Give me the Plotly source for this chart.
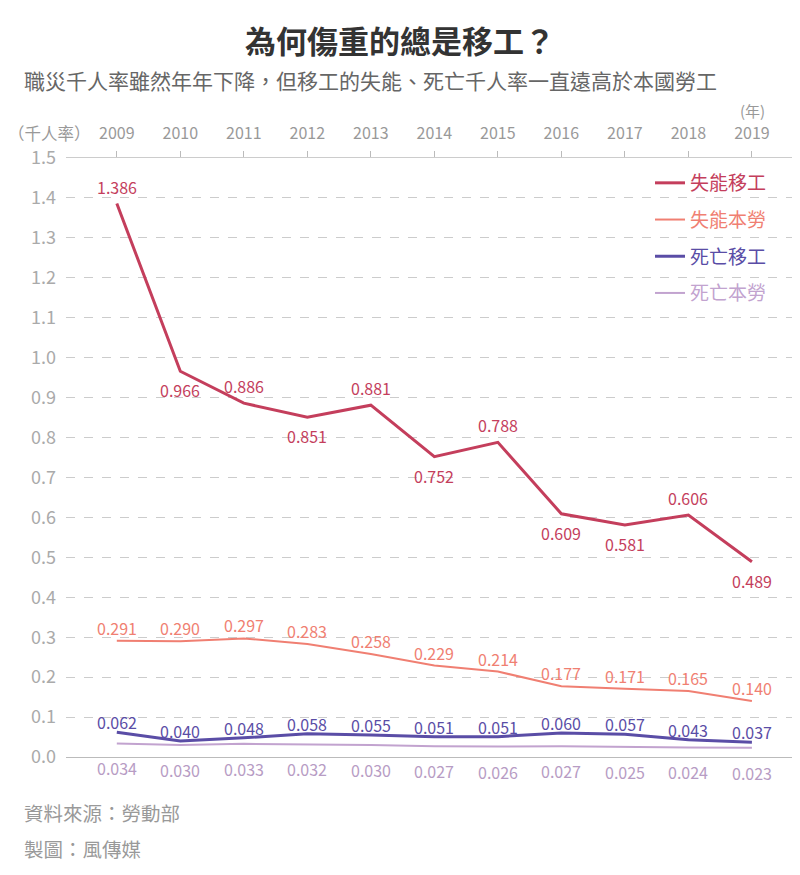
import plotly.graph_objects as go

years = [2009, 2010, 2011, 2012, 2013, 2014, 2015, 2016, 2017, 2018, 2019]
disab_migrant = [1.386, 0.966, 0.886, 0.851, 0.881, 0.752, 0.788, 0.609, 0.581, 0.606, 0.489]
disab_local = [0.291, 0.290, 0.297, 0.283, 0.258, 0.229, 0.214, 0.177, 0.171, 0.165, 0.140]
death_migrant = [0.062, 0.040, 0.048, 0.058, 0.055, 0.051, 0.051, 0.060, 0.057, 0.043, 0.037]
death_local = [0.034, 0.030, 0.033, 0.032, 0.030, 0.027, 0.026, 0.027, 0.025, 0.024, 0.023]
disab_migrant_above = [True, False, True, False, True, False, True, False, False, True, False]

series = [
    ("失能移工", disab_migrant, "#c43e5c", 3),
    ("失能本勞", disab_local, "#f07f72", 2),
    ("死亡移工", death_migrant, "#5a4da6", 3),
    ("死亡本勞", death_local, "#c2a3cf", 2),
]

FONT = "Noto Sans CJK TC"
OFF = 8  # page body margin
W, H = 800 - OFF, 875 - OFF
ml, mr, mt, mb = 66 - OFF, 3, 158 - OFF, 118
pw, ph = W - ml - mr, H - mt - mb

fig = go.Figure()
for i, (name, vals, color, w) in enumerate(series):
    fig.add_trace(go.Scatter(
        x=years, y=vals, mode="lines", name=f"<span style='color:{color}'>{name}</span>",
        line=dict(color=color, width=w), legendgroup=f"g{i}", hoverinfo="skip"))

annotations = []
def lab(x, y, text, color, shift):
    annotations.append(dict(x=x, y=y, text=text, showarrow=False, yshift=shift,
                            font=dict(family=FONT, size=16, color=color), xref="x", yref="y"))

for x, v, up in zip(years, disab_migrant, disab_migrant_above):
    lab(x, v, f"{v:.3f}", "#c43e5c", 17 if up else -19)
for x, v in zip(years, disab_local):
    lab(x, v, f"{v:.3f}", "#f07f72", 13)
for x, v in zip(years, death_migrant):
    lab(x, v, f"{v:.3f}", "#5a4da6", 10)
for x, v in zip(years, death_local):
    lab(x, v, f"{v:.3f}", "#b79cc4", -25)

def px(xp, yp, text, size, color, xanchor="center"):
    # header/footer text placed by page pixel position
    return dict(text=text, x=(xp - OFF - ml) / pw, y=1 + (mt - (yp - OFF)) / ph,
                xref="paper", yref="paper", xanchor=xanchor, yanchor="middle",
                showarrow=False, font=dict(family=FONT, size=size, color=color))

annotations += [
    px(400, 40, "<b>為何傷重的總是移工？</b>", 31, "#333"),
    px(22, 80, "職災千人率雖然年年下降，但移工的失能、死亡千人率一直遠高於本國勞工", 21, "#666", "left"),
    px(49, 133, "（千人率）", 16.5, "#999"),
    px(752, 110, "(年)", 15, "#999"),
    px(22, 812, "資料來源：勞動部", 19.5, "#999", "left"),
    px(22, 848, "製圖：風傳媒", 19.5, "#999", "left"),
]

fig.update_layout(
    width=W, height=H, margin=dict(l=ml, r=mr, t=mt, b=mb),
    paper_bgcolor="white", plot_bgcolor="white",
    font=dict(family=FONT, color="#999"),
    annotations=annotations,
    showlegend=True,
    legend=dict(x=(650 - OFF - ml) / pw, xanchor="left", y=0.99, yanchor="top",
                traceorder="grouped", tracegroupgap=9, font=dict(family=FONT, size=19),
                bgcolor="rgba(0,0,0,0)", itemwidth=30),
    xaxis=dict(side="top", range=[2008.2, 2019.71], tickmode="array", tickvals=years,
               ticktext=[str(y) for y in years], ticks="outside", ticklen=6, tickcolor="#bbb",
               showline=True, linecolor="#ccc", linewidth=1, showgrid=False, zeroline=False,
               ticklabelstandoff=6,
               tickfont=dict(family=FONT, size=16, color="#999"), fixedrange=True),
    yaxis=dict(range=[0, 1.5], dtick=0.1, tick0=0, tickformat=".1f", showgrid=True,
               gridcolor="#ccc", griddash="dash", gridwidth=1, zeroline=True, zerolinecolor="#bbb",
               zerolinewidth=1, showline=False, ticks="", ticklabelstandoff=9,
               tickfont=dict(family=FONT, size=18, color="#aaa"), fixedrange=True),
)
fig.write_html("out.html")
